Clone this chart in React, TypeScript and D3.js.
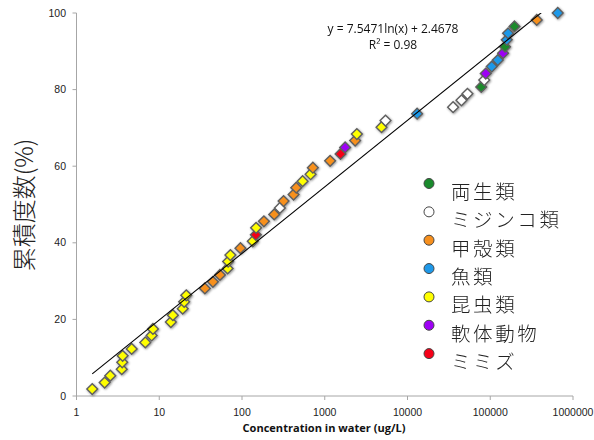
import React from "react";
import * as d3 from "d3";

// Concentrations (ug/L), cumulative percents, and taxon group of each point
const concentrations = [
  1.55, 2.19, 2.56, 3.52, 3.57, 3.61, 4.64, 6.78, 8.09, 8.39,
  13.8, 14.6, 19.2, 20.0, 21.2, 35.6, 44.5, 54.1, 67, 68,
  72.4, 95.7, 135, 147, 148, 184, 245, 287, 318, 420,
  452, 540, 674, 718, 1161, 1552, 1763, 2328, 2442, 4853,
  5423, 13060, 35560, 44870, 53040, 77850, 84650, 88260, 104300, 123300,
  142900, 151000, 158300, 164100, 196100, 364500, 653600,
];
const cumulativePct = [
  1.8, 3.5, 5.3, 7.0, 8.8, 10.5, 12.3, 14.0, 15.8, 17.5,
  19.3, 21.1, 22.8, 24.6, 26.3, 28.1, 29.8, 31.6, 33.3, 35.1,
  36.8, 38.6, 40.4, 42.1, 43.9, 45.6, 47.4, 49.1, 50.9, 52.6,
  54.4, 56.1, 57.9, 59.6, 61.4, 63.2, 64.9, 66.7, 68.4, 70.2,
  71.9, 73.7, 75.4, 77.2, 78.9, 80.7, 82.5, 84.2, 86.0, 87.7,
  89.5, 91.2, 93.0, 94.7, 96.5, 98.2, 100,
];
const groups = [
  4, 4, 4, 4, 4, 4, 4, 4, 4, 4,
  4, 4, 4, 4, 4, 2, 2, 2, 4, 4,
  4, 2, 4, 6, 4, 2, 2, 1, 2, 2,
  2, 4, 4, 2, 2, 6, 5, 2, 4, 4,
  1, 3, 1, 1, 1, 0, 1, 5, 3, 3,
  5, 0, 3, 3, 0, 2, 3,
];

const seriesNames = ["両生類", "ミジンコ類", "甲殻類", "魚類", "昆虫類", "軟体動物", "ミミズ"];
const seriesColors = ["#1a8a2c", "#ffffff", "#f7901e", "#1e98e8", "#ffff00", "#9e00f5", "#f50018"];

const xTicks = [1, 10, 100, 1000, 10000, 100000, 1000000];
const yTicks = [0, 20, 40, 60, 80, 100];

const fitSlope = 7.5471;
const fitIntercept = 2.4678;

const W = 594;
const H = 440;
const plotLeft = 76.5;
const plotRight = 573;
const plotTop = 13;
const plotBottom = 396;

export default function App() {
  const x = d3.scaleLog().domain([1, 1000000]).range([plotLeft, plotRight]);
  const y = d3.scaleLinear().domain([0, 100]).range([plotBottom, plotTop]);

  const diamond = d3.symbol().type(d3.symbolSquare).size(58)();

  const xMin = d3.min(concentrations) as number;
  const xMax = d3.max(concentrations) as number;
  const fit = (c: number) => fitSlope * Math.log(c) + fitIntercept;
  const fitLine = d3
    .line<number>()
    .x((c) => x(c))
    .y((c) => y(fit(c)))([xMin, xMax]);

  const axisColor = "#a6a6a6";
  const tickFont = "'Liberation Sans', Arial, sans-serif";
  const jpFont = "'Noto Sans CJK JP', sans-serif";

  return (
    <svg
      width={W}
      height={H}
      style={{ position: "absolute", left: 0, top: 0, background: "#fff" }}
    >
      <defs>
        <clipPath id="plotClip">
          <rect x={plotLeft} y={plotTop} width={plotRight - plotLeft} height={plotBottom - plotTop} />
        </clipPath>
        <filter id="shadow" x="-50%" y="-50%" width="200%" height="200%">
          <feDropShadow dx="0.8" dy="0.8" stdDeviation="0.9" floodColor="#000" floodOpacity="0.45" />
        </filter>
      </defs>

      {/* axes */}
      <line x1={plotLeft} x2={plotLeft} y1={plotTop} y2={plotBottom} stroke={axisColor} strokeWidth={1} />
      <line x1={plotLeft} x2={plotRight} y1={plotBottom} y2={plotBottom} stroke={axisColor} strokeWidth={1} />
      {yTicks.map((t) => (
        <g key={"y" + t}>
          <line x1={plotLeft - 4} x2={plotLeft} y1={y(t)} y2={y(t)} stroke={axisColor} />
          <text
            x={66}
            y={y(t)}
            dy="0.35em"
            textAnchor="end"
            fontFamily={tickFont}
            fontSize={10.5}
            fill="#222"
          >
            {t}
          </text>
        </g>
      ))}
      {xTicks.map((t) => (
        <g key={"x" + t}>
          <line x1={x(t)} x2={x(t)} y1={plotBottom} y2={plotBottom + 4} stroke={axisColor} />
          <text
            x={x(t)}
            y={412}
            dy="0.35em"
            textAnchor="middle"
            fontFamily={tickFont}
            fontSize={10.5}
            fill="#222"
          >
            {t}
          </text>
        </g>
      ))}

      {/* axis titles */}
      <text
        x={324}
        y={432}
        textAnchor="middle"
        fontFamily="'Open Sans', sans-serif"
        fontWeight="bold"
        fontSize={11}
        fill="#111"
        textLength={163}
        lengthAdjust="spacingAndGlyphs"
      >
        Concentration in water (ug/L)
      </text>
      <text
        transform={`translate(25,205) rotate(-90)`}
        textAnchor="middle"
        dy="0.35em"
        fontFamily={jpFont}
        fontWeight={300}
        fontSize={24}
        fill="#222"
      >
        累積度数(%)
      </text>

      {/* points */}
      <g filter="url(#shadow)">
        {concentrations.map((c, i) => (
          <path
            key={i}
            d={diamond as string}
            transform={`translate(${x(c)},${y(cumulativePct[i])}) rotate(45)`}
            fill={seriesColors[groups[i]]}
            stroke="#5e5e5e"
            strokeWidth={1.4}
          />
        ))}
      </g>

      {/* trend line */}
      <path d={fitLine as string} fill="none" stroke="#000" strokeWidth={1.1} clipPath="url(#plotClip)" />
      <text
        x={393}
        y={33}
        textAnchor="middle"
        fontFamily="'Open Sans', sans-serif"
        fontSize={12}
        fill="#111"
      >
        y = 7.5471ln(x) + 2.4678
      </text>
      <text
        x={393}
        y={49}
        textAnchor="middle"
        fontFamily="'Open Sans', sans-serif"
        fontSize={12}
        fill="#111"
      >
        R² = 0.98
      </text>

      {/* legend */}
      {seriesNames.map((name, i) => {
        const cy = 183.5 + i * 28.35;
        return (
          <g key={name}>
            <circle cx={429} cy={cy} r={5} fill={seriesColors[i]} stroke="#444" strokeWidth={1} />
            <text
              x={451}
              y={cy + 8.5}
              dy="0.35em"
              fontFamily={jpFont}
              fontWeight={300}
              fontSize={19.5}
              letterSpacing={2.6}
              fill="#222"
            >
              {name}
            </text>
          </g>
        );
      })}
    </svg>
  );
}
